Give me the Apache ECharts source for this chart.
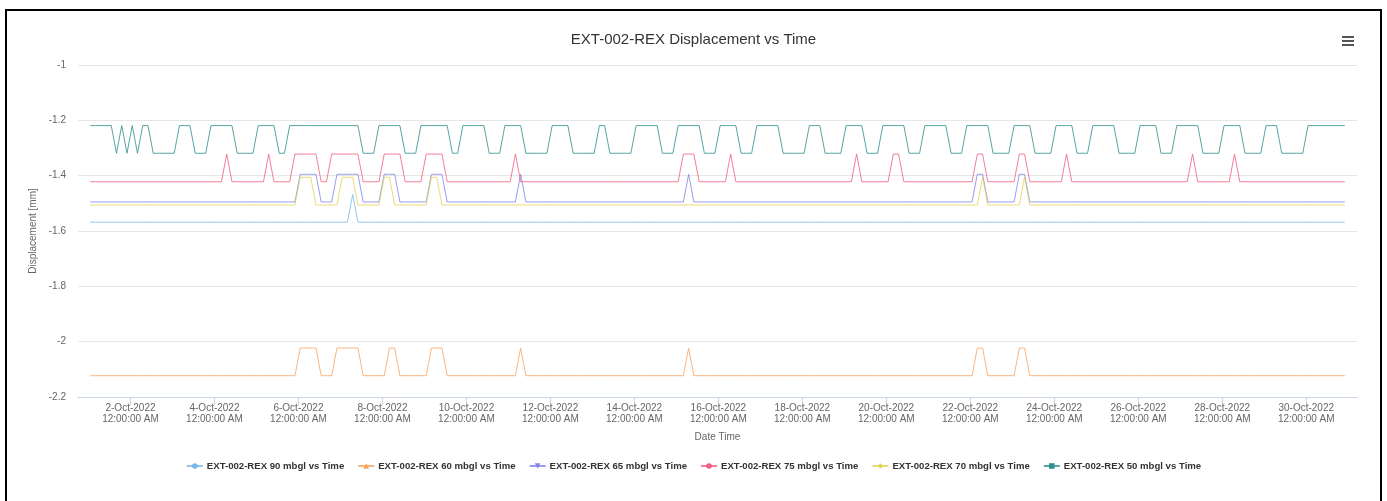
<!DOCTYPE html>
<html>
<head>
<meta charset="utf-8">
<script src="https://cdn.jsdelivr.net/npm/echarts@6/dist/echarts.min.js"></script>
<style>
  html, body { margin: 0; padding: 0; background: #ffffff; }
  #frame { position: absolute; left: 5px; top: 9px; width: 1373px; height: 600px; border: 2px solid #000; border-bottom: none; }
  #chart { position: absolute; left: 0; top: 0; width: 1387px; height: 501px; }
</style>
</head>
<body>
<div id="frame"></div>
<div id="chart"></div>
<script>
// ---------------- DATA ----------------
const chartTitle = 'EXT-002-REX Displacement vs Time';
const yAxisTitle = 'Displacement [mm]';
const xAxisTitle = 'Date Time';

// readings every 3 hours, first reading 1-Oct-2022 01:00, 240 readings
const firstReadingUTC = [2022, 9, 1, 1];
const readingStepHours = 3;
const readingCount = 240;

const seriesNames = [
  'EXT-002-REX 90 mbgl vs Time',
  'EXT-002-REX 60 mbgl vs Time',
  'EXT-002-REX 65 mbgl vs Time',
  'EXT-002-REX 75 mbgl vs Time',
  'EXT-002-REX 70 mbgl vs Time',
  'EXT-002-REX 50 mbgl vs Time'
];
const seriesColors = ['#7cb5ec', '#f7a35c', '#8085e9', '#f15c80', '#e4d354', '#2b908f'];
const seriesSymbols = ['circle', 'triangle', 'path://M0,0 L10,0 L5,10 Z', 'circle', 'diamond', 'rect'];

// resting value of each gauge (mm)
const baseValues   = [-1.568, -2.123, -1.495, -1.422, -1.506, -1.319];
// value during the raised readings (mm)
const raisedValues = [-1.468, -2.023, -1.395, -1.322, -1.406, -1.219];

// runs of readings (first index, last index) at the raised value
const raised90 = [[50, 50]];
const raised60 = [[40, 43], [47, 51], [57, 58], [65, 67], [82, 82], [114, 114], [169, 170], [177, 178]];
const raised65 = [[40, 43], [47, 51], [56, 58], [65, 67], [82, 82], [114, 114], [169, 170], [177, 178]];
const raised75 = [[26, 26], [34, 34], [39, 43], [46, 51], [56, 59], [64, 67], [81, 81], [113, 115], [122, 122],
                  [146, 146], [153, 154], [169, 170], [177, 178], [186, 186], [210, 210], [218, 218]];
const raised70 = [[40, 42], [48, 50], [56, 57], [65, 66], [170, 170], [178, 178]];
const raised50 = [[0, 4], [6, 6], [8, 8], [10, 11], [17, 19], [23, 27], [32, 35], [38, 51], [55, 59], [63, 68],
                  [71, 75], [79, 82], [88, 91], [97, 98], [104, 108], [112, 116], [120, 123], [127, 131],
                  [137, 139], [144, 147], [151, 155], [159, 163], [167, 171], [176, 179], [184, 187],
                  [191, 195], [200, 203], [207, 211], [216, 219], [224, 226], [232, 239]];
const raisedRuns = [raised90, raised60, raised65, raised75, raised70, raised50];

// x-axis tick days (October 2022, 12:00:00 AM)
const tickDays = [2, 4, 6, 8, 10, 12, 14, 16, 18, 20, 22, 24, 26, 28, 30];
const monthNames = ['Jan','Feb','Mar','Apr','May','Jun','Jul','Aug','Sep','Oct','Nov','Dec'];

// y-axis ticks
const yMin = -2.2, yMax = -1, yStep = 0.2;

// ---------------- BUILD ----------------
const HOUR = 3600 * 1000;
const t0 = Date.UTC(firstReadingUTC[0], firstReadingUTC[1], firstReadingUTC[2], firstReadingUTC[3]);
const readingTimes = [];
for (let i = 0; i < readingCount; i++) readingTimes.push(t0 + i * readingStepHours * HOUR);

function buildSeries(k) {
  const vals = readingTimes.map(() => baseValues[k]);
  raisedRuns[k].forEach(([a, b]) => { for (let i = a; i <= b; i++) vals[i] = raisedValues[k]; });
  return readingTimes.map((t, i) => [t, vals[i]]);
}

const tickTimes = tickDays.map(d => Date.UTC(2022, 9, d));
const xMin = Date.UTC(2022, 8, 30, 18);
const xMax = Date.UTC(2022, 9, 31, 5);

const FONT = '"Liberation Sans", Arial, sans-serif';

const chart = echarts.init(document.getElementById('chart'), null, { renderer: 'canvas' });
chart.setOption({
  animation: false,
  color: seriesColors,
  textStyle: { fontFamily: FONT },
  title: {
    text: chartTitle, left: 'center', top: 27,
    textStyle: { fontFamily: FONT, fontSize: 15, fontWeight: 'normal', color: '#333333' }
  },
  graphic: [
    { type: 'rect', left: 1342, top: 36, shape: { width: 12, height: 2 }, style: { fill: '#555' } },
    { type: 'rect', left: 1342, top: 40, shape: { width: 12, height: 2 }, style: { fill: '#555' } },
    { type: 'rect', left: 1342, top: 44, shape: { width: 12, height: 2 }, style: { fill: '#555' } }
  ],
  grid: { left: 78, right: 30, top: 65, bottom: 104 },
  legend: {
    top: 456, left: 'center', itemWidth: 16, itemHeight: 7, itemGap: 13,
    textStyle: { fontFamily: FONT, fontSize: 9.6, fontWeight: 'bold', color: '#333333', padding: [0, 0, 0, -1] },
    data: seriesNames
  },
  xAxis: {
    type: 'value', min: xMin, max: xMax,
    name: xAxisTitle, nameLocation: 'middle', nameGap: 35,
    nameTextStyle: { fontFamily: FONT, fontSize: 10, color: '#666666' },
    axisLine: { show: true, lineStyle: { color: '#ccd6eb', width: 1 } },
    axisTick: { show: true, length: 8, lineStyle: { color: '#ccd6eb' }, customValues: tickTimes },
    axisLabel: {
      customValues: tickTimes, color: '#666666', fontSize: 10, lineHeight: 11, margin: 6,
      fontFamily: FONT,
      formatter: v => { const d = new Date(v); return d.getUTCDate() + '-' + monthNames[d.getUTCMonth()] + '-' + d.getUTCFullYear() + '\n12:00:00 AM'; }
    },
    splitLine: { show: false }
  },
  yAxis: {
    type: 'value', min: yMin, max: yMax, interval: yStep,
    name: yAxisTitle, nameLocation: 'middle', nameGap: 36,
    nameTextStyle: { fontFamily: FONT, fontSize: 10, color: '#666666' },
    axisLine: { show: false }, axisTick: { show: false },
    axisLabel: { color: '#666666', fontSize: 10, margin: 12, fontFamily: FONT },
    splitLine: { lineStyle: { color: '#e6e6e6', width: 1 } }
  },
  series: seriesNames.map((n, k) => ({
    name: n, type: 'line', data: buildSeries(k),
    showSymbol: false, symbol: seriesSymbols[k], symbolSize: 7,
    lineStyle: { width: 1, color: seriesColors[k], opacity: 0.8 },
    itemStyle: { color: seriesColors[k] },
    emphasis: { disabled: true }
  }))
});
</script>
</body>
</html>
